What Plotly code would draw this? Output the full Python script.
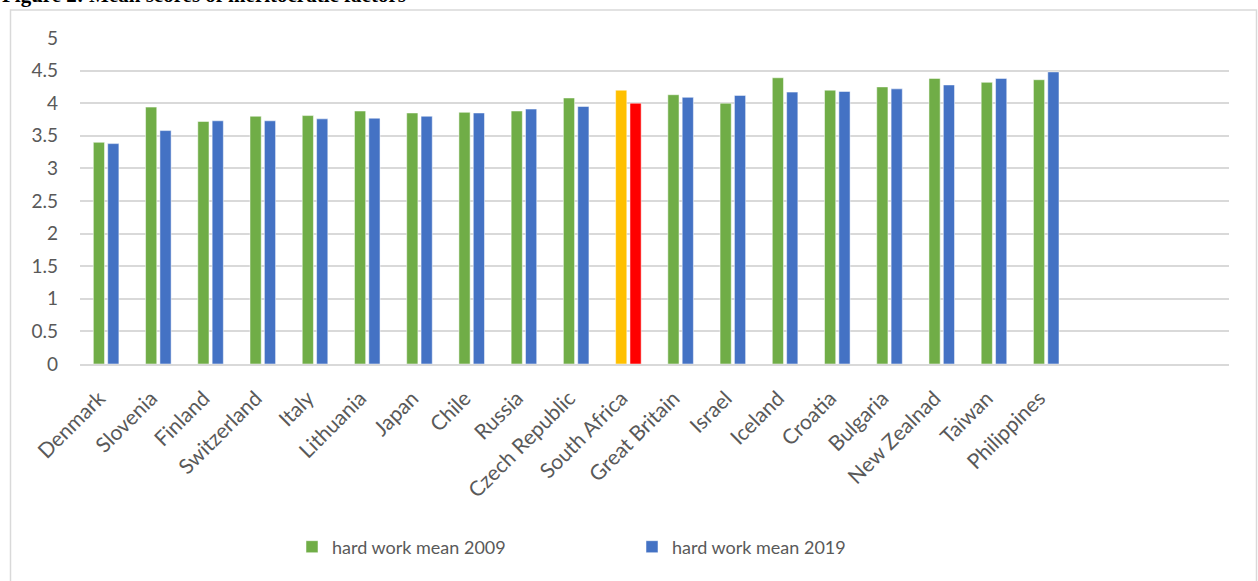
import plotly.graph_objects as go

countries = ["Denmark", "Slovenia", "Finland", "Switzerland", "Italy", "Lithuania",
             "Japan", "Chile", "Russia", "Czech Republic", "South Africa", "Great Britain",
             "Israel", "Iceland", "Croatia", "Bulgaria", "New Zealnad", "Taiwan", "Philippines"]
empty_slots = [" ", "  ", "   "]
mean_2009 = [3.40, 3.94, 3.72, 3.80, 3.81, 3.88, 3.85, 3.86, 3.88, 4.08,
             4.20, 4.13, 4.00, 4.39, 4.20, 4.25, 4.38, 4.32, 4.36]
mean_2019 = [3.38, 3.58, 3.73, 3.73, 3.76, 3.77, 3.80, 3.85, 3.91, 3.95,
             4.00, 4.09, 4.12, 4.17, 4.18, 4.22, 4.28, 4.38, 4.48]
y_ticks = [0, 0.5, 1, 1.5, 2, 2.5, 3, 3.5, 4, 4.5, 5]
y_tick_text = ["0", "0.5", "1", "1.5", "2", "2.5", "3", "3.5", "4", "4.5", "5"]

GREEN, BLUE, YELLOW, RED = "#70AD47", "#4472C4", "#FFC000", "#FF0000"
highlight = "South Africa"
colors_2009 = [YELLOW if c == highlight else GREEN for c in countries]
colors_2019 = [RED if c == highlight else BLUE for c in countries]

W, H = 1258, 581
L, R, T, B = 80, 29, 38, 217
pw, ph = W - L - R, H - T - B

def px_x(p):
    return (p - L) / pw

def px_y(p):
    return (H - B - p) / ph

fig = go.Figure()
fig.add_trace(go.Bar(name="hard work mean 2009", x=countries, y=mean_2009,
                     marker=dict(color=colors_2009, line=dict(color="rgba(255,255,255,0.5)", width=1))))
fig.add_trace(go.Bar(name="hard work mean 2019", x=countries, y=mean_2019,
                     marker=dict(color=colors_2019, line=dict(color="rgba(255,255,255,0.5)", width=1))))

fig.update_layout(
    width=W, height=H,
    margin=dict(l=L, r=R, t=T, b=B, pad=0),
    paper_bgcolor="white", plot_bgcolor="white",
    barmode="group", bargap=0.45, bargroupgap=0.22,
    font=dict(family="Lato, Open Sans, sans-serif", color="#595959"),
    showlegend=True,
    legend=dict(orientation="h", x=px_x(292), y=px_y(547), xanchor="left", yanchor="middle",
                font=dict(size=18, color="#595959"), entrywidth=295, entrywidthmode="pixels",
                traceorder="normal", itemclick=False),
    xaxis=dict(categoryorder="array", categoryarray=countries + empty_slots,
               range=[-0.5, len(countries) + len(empty_slots) - 0.5],
               tickangle=-45, tickfont=dict(size=21, color="#595959"), ticklabelstandoff=12,
               ticklabelshift=-7,
               showline=True, linecolor="#D9D9D9", linewidth=1.5, showgrid=False,
               ticks="", zeroline=False),
    yaxis=dict(range=[0, 5], tickvals=y_ticks, ticktext=y_tick_text,
               tickfont=dict(size=19, color="#595959"), ticks="", ticklabelstandoff=21,
               showgrid=True, gridcolor="#D9D9D9", gridwidth=1.5, zeroline=False,
               showline=False),
    shapes=[dict(type="rect", xref="paper", yref="paper",
                 x0=px_x(10.5), x1=px_x(1256.5), y0=px_y(590), y1=px_y(10),
                 line=dict(color="#D9D9D9", width=1.5), fillcolor="rgba(0,0,0,0)", layer="below")],
    annotations=[dict(text="<b>Figure 2: Mean scores of meritocratic factors</b>",
                      xref="paper", yref="paper", x=px_x(0), y=px_y(9),
                      xanchor="left", yanchor="bottom", showarrow=False,
                      font=dict(family="Liberation Serif, Times New Roman, serif", size=21, color="black"))],
)

fig.write_html("out.html")
